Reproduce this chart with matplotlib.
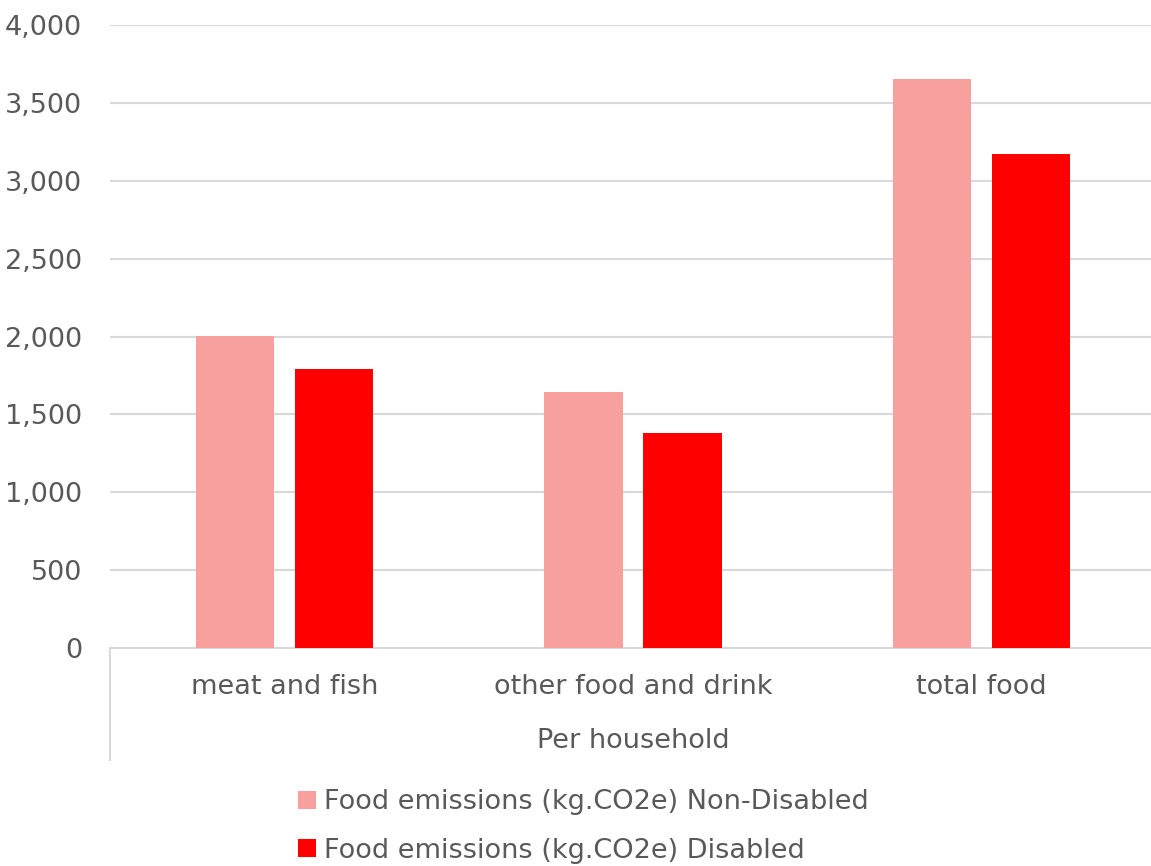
import matplotlib.pyplot as plt
from matplotlib.lines import Line2D
from matplotlib.ticker import FuncFormatter
import numpy as np

categories = ["meat and fish", "other food and drink", "total food"]
group_label = "Per household"
non_disabled = [2003, 1644, 3653]
disabled = [1791, 1380, 3172]
series_names = ["Food emissions (kg.CO2e) Non-Disabled",
                "Food emissions (kg.CO2e) Disabled"]

plt.rcParams['font.family'] = ['DejaVu Sans']
txt = '#595959'
grid = '#d9d9d9'
fs = 19.5

W, H = 1151, 866
fig = plt.figure(figsize=(W/100, H/100), dpi=100)
ax_l, ax_r = 110, 1156
ax = fig.add_axes([ax_l/W, (H-648)/H, (ax_r-ax_l)/W, 623/H])

x = np.arange(len(categories))
bw = 0.225
off = 0.142
ax.bar(x - off, non_disabled, bw, color='#f8a09e', label=series_names[0], zorder=3)
ax.bar(x + off, disabled, bw, color='#ff0000', label=series_names[1], zorder=3)

ax.set_xlim(-0.5, 2.5)
ax.set_ylim(0, 4000)
ax.set_yticks(np.arange(0, 4001, 500))
ax.yaxis.set_major_formatter(FuncFormatter(lambda v, p: f"{int(v):,}"))
ax.grid(axis='y', color=grid, linewidth=1.5, zorder=0)
ax.set_axisbelow(True)

for s in ['top', 'right', 'left']:
    ax.spines[s].set_visible(False)
ax.spines['bottom'].set_color(grid)
ax.spines['bottom'].set_linewidth(1.5)

ax.tick_params(axis='y', length=0, labelsize=fs, labelcolor=txt, pad=20)
ax.set_xticks(x)
ax.set_xticklabels(categories)
ax.tick_params(axis='x', length=0, labelsize=fs, labelcolor=txt, pad=19)

# multi-level category separator on the left
ax.add_line(Line2D([0, 0], [0, -112/623], transform=ax.transAxes,
                   color=grid, linewidth=1.5, clip_on=False))
ax.text((633 - ax_l) / (ax_r - ax_l), -93/623, group_label,
        transform=ax.transAxes, ha='center', va='center', fontsize=fs, color=txt)

leg = fig.legend(loc='upper left', bbox_to_anchor=(274/W, 1 - 765/H),
                 frameon=False, fontsize=fs, labelcolor=txt,
                 handlelength=0.65, handleheight=0.65, handletextpad=0.3,
                 labelspacing=0.83)

fig.savefig('out.png', dpi=100)
